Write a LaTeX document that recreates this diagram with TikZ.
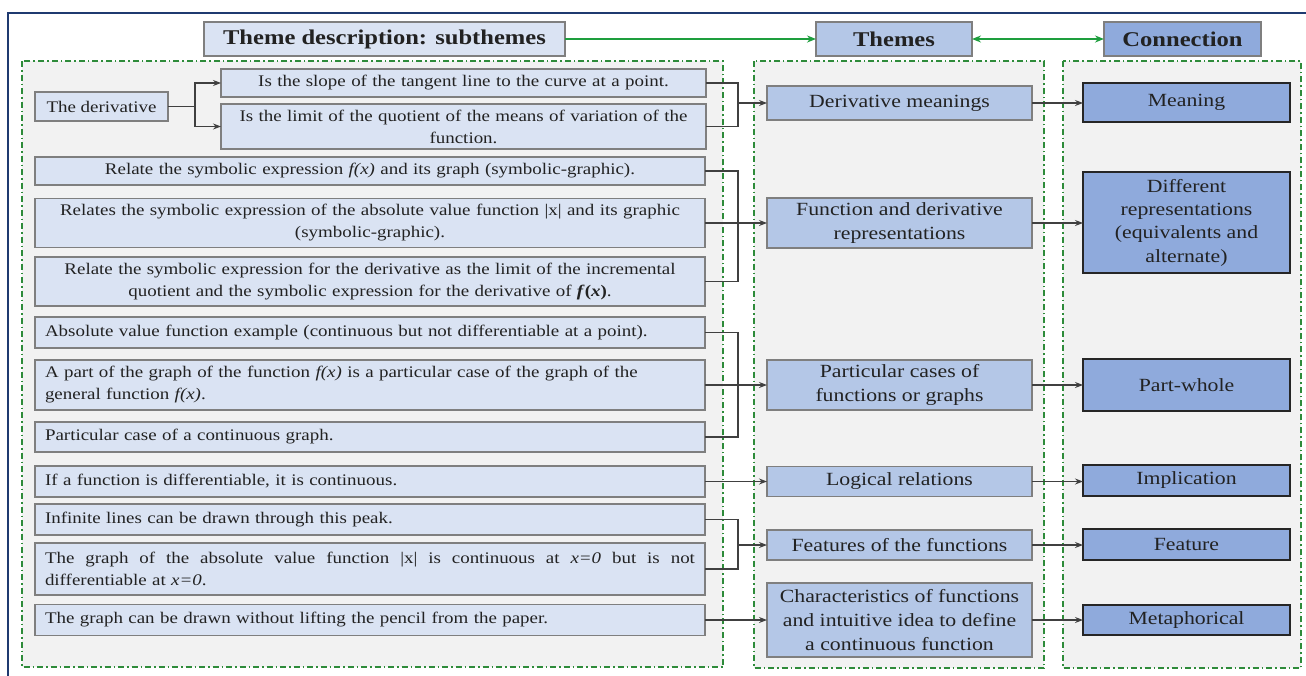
\documentclass[tikz,border=0pt]{standalone}
\usepackage{fontspec}
\setmainfont{Liberation Serif}[FakeStretch=1.17]
\usetikzlibrary{arrows.meta,calc}
\definecolor{lb}{HTML}{DAE3F3}
\definecolor{mb}{HTML}{B4C7E7}
\definecolor{db}{HTML}{8FAADC}
\definecolor{bordg}{HTML}{7F7F7F}
\definecolor{txt}{HTML}{222222}
\definecolor{grn}{HTML}{1E9E3E}
\definecolor{cgreen}{HTML}{2E8B3A}
\definecolor{bgg}{HTML}{F2F2F2}
\definecolor{navy}{HTML}{1F3A70}
\definecolor{conc}{HTML}{404040}
\begin{document}
\begin{tikzpicture}[x=1pt,y=-1pt,
 every node/.style={inner sep=0pt, outer sep=0pt, text=txt},
 sfont/.style={font=\fontsize{16.2}{22}\selectfont},
 sbox/.style={draw=bordg, line width=1.2pt, fill=lb, sfont, minimum width=670pt, text width=650pt},
 tbox/.style={draw=bordg, line width=1.2pt, fill=lb, sfont, minimum width=485pt, text width=465pt, align=center},
 mbox/.style={draw=bordg, line width=1.2pt, fill=mb, font=\fontsize{18.6}{24}\selectfont, align=center, minimum width=265pt},
 rbox/.style={draw=black!85, line width=1.6pt, fill=db, font=\fontsize{18.6}{23.3}\selectfont, align=center, minimum width=207pt},
 hbox/.style={draw=bordg, line width=1.2pt, font=\bfseries\fontsize{21}{24}\selectfont, minimum height=34pt},
 cont/.style={draw=cgreen, line width=1.3pt, fill=bgg, dash pattern=on 6pt off 3pt on 1.5pt off 3pt},
 cline/.style={draw=conc, line width=1.1pt},
 arr/.style={cline, -{Stealth[length=8pt,width=6pt]}},
 garr/.style={draw=grn, line width=2pt, -{Stealth[length=9pt,width=7pt]}},
 gdarr/.style={draw=grn, line width=2pt, {Stealth[length=9pt,width=7pt]}-{Stealth[length=9pt,width=7pt]}},
]
\useasboundingbox (0,0) rectangle (1306,675);
\draw[navy, line width=2.5pt] (8,700) -- (8,13) -- (1330,13);
% containers
\draw[cont] (22,61) rectangle (723,667);
\draw[cont] (754,61) rectangle (1044,668);
\draw[cont] (1063,61) rectangle (1301,668);
% header
\node[hbox, fill=lb, minimum width=361pt] (tds) at (384.5,39) {Theme description: subthemes};
\node[hbox, fill=mb, minimum width=156pt] (themes) at (894,39) {Themes};
\node[hbox, fill=db, minimum width=157pt] (connh) at (1182.5,39) {Connection};
\draw[garr] (tds.east) -- (themes.west);
\draw[gdarr] (themes.east) -- (connh.west);
% left boxes
\node[draw=bordg, line width=1.2pt, fill=lb, sfont, minimum width=133pt, minimum height=29pt] (deriv) at (101.5,106.5) {The derivative};
\node[tbox, minimum height=28pt] (slope) at (463.5,83) {Is the slope of the tangent line to the curve at a point.};
\node[tbox, minimum height=45pt] (limit) at (463.5,126.5) {Is the limit of the quotient of the means of variation of the\\ function.};
\node[sbox, align=center, minimum height=28pt] (rel1) at (370,171) {Relate the symbolic expression \textit{f(x)} and its graph (symbolic-graphic).};
\node[sbox, align=center, minimum height=49pt] (rel2) at (370,223) {Relates the symbolic expression of the absolute value function \textbar x\textbar{} and its graphic\\ (symbolic-graphic).};
\node[sbox, align=center, minimum height=49pt] (rel3) at (370,281.5) {Relate the symbolic expression for the derivative as the limit of the incremental\\ quotient and the symbolic expression for the derivative of \textbf{\textit{f}(\textit{x})}.};
\node[sbox, align=left, minimum height=31pt] (abs) at (370,332.5) {Absolute value function example (continuous but not differentiable at a point).};
\node[sbox, align=left, minimum height=50pt] (part) at (370,385) {A part of the graph of the function \textit{f(x)} is a particular case of the graph of the\\ general function \textit{f(x)}.};
\node[sbox, align=left, minimum height=30pt] (pcase) at (370,437) {Particular case of a continuous graph.};
\node[sbox, align=left, minimum height=31pt] (ifdiff) at (370,481.5) {If a function is differentiable, it is continuous.};
\node[sbox, align=left, minimum height=31pt] (inf) at (370,519.5) {Infinite lines can be drawn through this peak.};
\node[sbox, align=left, minimum height=52pt] (gabs) at (370,569) {\hbox to 650pt{The\hfill graph\hfill of\hfill the\hfill absolute\hfill value\hfill function\hfill \textbar x\textbar\hfill is\hfill continuous\hfill at\hfill \textit{x=0}\hfill but\hfill is\hfill not}\\ differentiable at \textit{x=0}.};
\node[sbox, align=left, minimum height=31pt] (pencil) at (370,620) {The graph can be drawn without lifting the pencil from the paper.};
% middle boxes
\node[mbox, minimum height=34pt] (dm) at (899.5,103) {Derivative meanings};
\node[mbox, minimum height=50pt] (fdr) at (899.5,223) {Function and derivative\\representations};
\node[mbox, minimum height=50pt] (pc) at (899.5,385) {Particular cases of\\functions or graphs};
\node[mbox, minimum height=30pt] (lr) at (899.5,481.5) {Logical relations};
\node[mbox, minimum height=30pt] (ff) at (899.5,545) {Features of the functions};
\node[mbox, minimum height=74pt] (ch) at (899.5,620) {Characteristics of functions\\and intuitive idea to define\\a continuous function};
% right boxes
\node[rbox, minimum height=39pt] (mean) at (1186.5,102.5) {Meaning};
\node[rbox, minimum height=101pt] (diffrep) at (1186.5,222.5) {Different\\representations\\(equivalents and\\alternate)};
\node[rbox, minimum height=52pt] (pw) at (1186.5,385) {Part-whole};
\node[rbox, minimum height=31pt] (impl) at (1186.5,480.5) {Implication};
\node[rbox, minimum height=31pt] (feat) at (1186.5,544.5) {Feature};
\node[rbox, minimum height=30pt] (meta) at (1186.5,620) {Metaphorical};
% connectors left
\coordinate (jd) at (195,106.5);
\draw[cline] (deriv.east) -- (jd);
\draw[arr] (jd) |- (slope.west);
\draw[arr] (jd) |- (limit.west);
\coordinate (j1) at (738,103);
\draw[cline] (slope.east) -| (j1);
\draw[cline] (limit.east) -| (j1);
\draw[arr] (j1) -- (dm.west);
\coordinate (j2) at (738,223);
\draw[cline] (rel1.east) -| (j2);
\draw[cline] (rel3.east) -| (j2);
\draw[arr] (rel2.east) -- (rel2.east -| fdr.west);
\coordinate (j3) at (738,385);
\draw[cline] (abs.east) -| (j3);
\draw[cline] (pcase.east) -| (j3);
\draw[arr] (part.east) -- (part.east -| pc.west);
\draw[arr] (ifdiff.east) -- (ifdiff.east -| lr.west);
\coordinate (j4) at (738,545);
\draw[cline] (inf.east) -| (j4);
\draw[cline] (gabs.east) -| (j4);
\draw[arr] (j4) -- (ff.west);
\draw[arr] (pencil.east) -- (pencil.east -| ch.west);
% connectors right
\draw[arr] (dm.east) -- (dm.east -| mean.west);
\draw[arr] (fdr.east) -- (fdr.east -| diffrep.west);
\draw[arr] (pc.east) -- (pc.east -| pw.west);
\draw[arr] (lr.east) -- (lr.east -| impl.west);
\draw[arr] (ff.east) -- (ff.east -| feat.west);
\draw[arr] (ch.east) -- (ch.east -| meta.west);
\end{tikzpicture}
\end{document}
